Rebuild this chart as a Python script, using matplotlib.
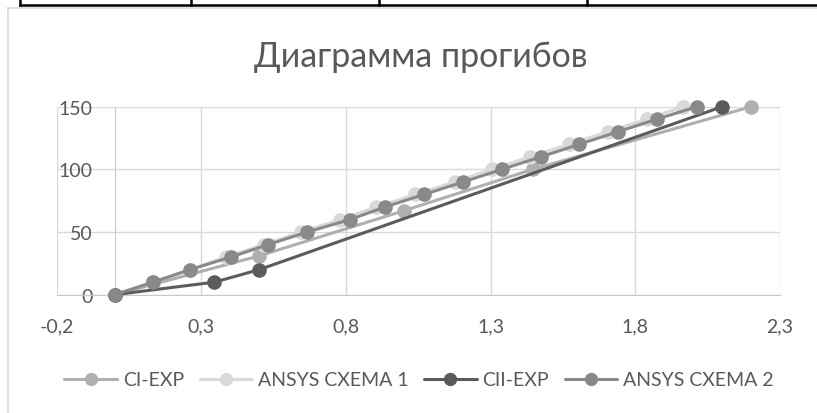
import matplotlib.pyplot as plt
from matplotlib.lines import Line2D

plt.rcParams['font.family'] = ['Lato', 'DejaVu Sans']

# данные
ci_exp_x = [0, 0.50, 1.00, 1.445, 2.20]
ci_exp_y = [0, 31, 67, 100, 150]

ansys1_x = [0, 0.13, 0.26, 0.385, 0.515, 0.645, 0.78, 0.905, 1.04, 1.175, 1.305, 1.435, 1.57, 1.705, 1.84, 1.965]
ansys1_y = [0, 10, 20, 30, 40, 50, 60, 70, 80, 90, 100, 110, 120, 130, 140, 150]

cii_exp_x = [0, 0.345, 0.50, 2.10]
cii_exp_y = [0, 10, 20, 150]

ansys2_x = [0, 0.134, 0.261, 0.401, 0.531, 0.666, 0.814, 0.935, 1.07, 1.205, 1.339, 1.473, 1.606, 1.739, 1.874, 2.012]
ansys2_y = [0, 10, 20, 30, 40, 50, 60, 70, 80, 90, 100, 110, 120, 130, 140, 150]

series = [
    ('CI-EXP', ci_exp_x, ci_exp_y, '#afafaf'),
    ('ANSYS CXEMA 1', ansys1_x, ansys1_y, '#d9d9d9'),
    ('CII-EXP', cii_exp_x, cii_exp_y, '#5b5b5b'),
    ('ANSYS CXEMA 2', ansys2_x, ansys2_y, '#898989'),
]

x_ticks = [-0.2, 0.3, 0.8, 1.3, 1.8, 2.3]
x_labels = ['-0,2', '0,3', '0,8', '1,3', '1,8', '2,3']
y_ticks = [0, 50, 100, 150]

text_color = '#595959'
grid_color = '#d9d9d9'

fig = plt.figure(figsize=(8.17, 4.14), dpi=100)

# рамка таблицы сверху и рамка диаграммы
fig.add_artist(Line2D([19.5 / 817, 1], [1 - 6 / 414, 1 - 6 / 414], color='black', lw=1.8))
for xp in [19.5, 191, 379, 587]:
    fig.add_artist(Line2D([xp / 817, xp / 817], [1 - 6 / 414, 1], color='black', lw=1.8))
fig.add_artist(Line2D([8 / 817, 8 / 817], [0, 1 - 9 / 414], color=grid_color, lw=1.2))
fig.add_artist(Line2D([8 / 817, 1], [1 - 9 / 414, 1 - 9 / 414], color=grid_color, lw=1.2))

ax = fig.add_axes([56.7 / 817, 1 - 295.7 / 414, (780 - 56.7) / 817, (295.7 - 107.7) / 414])

for name, xs, ys, c in series:
    ax.plot(xs, ys, color=c, lw=2.2, marker='o', markersize=9.5, label=name,
            solid_capstyle='round', zorder=3, clip_on=False)

ax.set_xlim(-0.2, 2.3)
ax.set_ylim(0, 150)
ax.set_xticks(x_ticks)
ax.set_xticklabels(x_labels)
ax.set_yticks(y_ticks)
ax.grid(True, color=grid_color, lw=1)
ax.set_axisbelow(True)

for s in ['top', 'right']:
    ax.spines[s].set_visible(False)
ax.spines['left'].set_position(('data', 0))
ax.spines['left'].set_color('#c8c8c8')
ax.spines['bottom'].set_color('#c8c8c8')
ax.tick_params(axis='both', length=0, labelsize=14, colors=text_color)
ax.tick_params(axis='y', pad=16)
ax.tick_params(axis='x', pad=16)

fig.text(421 / 817, 1 - 57 / 414, 'Диаграмма прогибов', ha='center', va='center',
         fontsize=24.5, color=text_color)

leg = fig.legend(loc='center', bbox_to_anchor=(419 / 817, 1 - 381 / 414), ncol=4,
                 frameon=False, fontsize=14, handlelength=2.7, handletextpad=0.3,
                 columnspacing=0.8, markerscale=0.9)
for t in leg.get_texts():
    t.set_color(text_color)

fig.savefig('out.png', dpi=100)
